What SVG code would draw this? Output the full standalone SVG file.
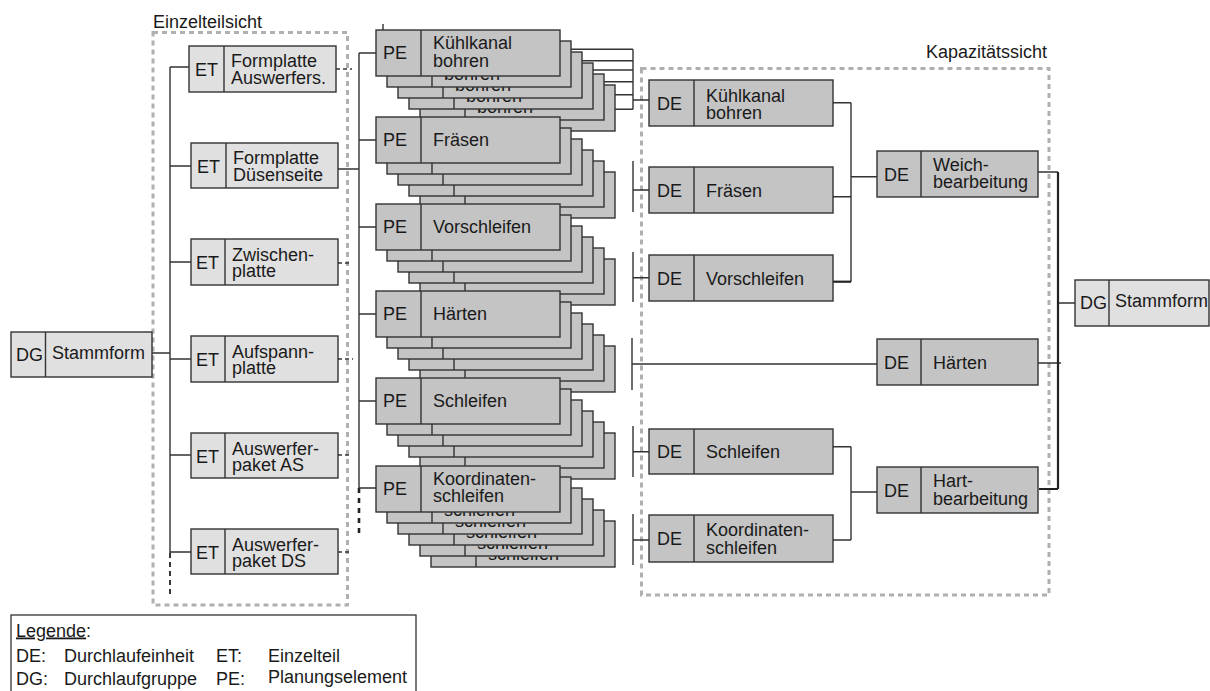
<svg xmlns="http://www.w3.org/2000/svg" width="1210" height="691" viewBox="0 0 1210 691">
  <style>
    .lt { fill: #e0e0e0; stroke: #333; stroke-width: 1.4; }
    .dk { fill: #c4c4c4; stroke: #333; stroke-width: 1.4; }
    .sep { stroke: #333; stroke-width: 1.4; }
    .t { font-family: "Liberation Sans", Arial, sans-serif; font-size: 18px; fill: #1a1a1a; }
    .ln { stroke: #333; stroke-width: 1.4; fill: none; }
    .thk { stroke: #222; stroke-width: 2.2; fill: none; }
    .dsh { stroke: #333; stroke-width: 1.3; stroke-dasharray: 4 3; fill: none; }
    .tail { stroke: #222; stroke-width: 1.8; stroke-dasharray: 5 4; fill: none; }
    .tail2 { stroke: #222; stroke-width: 2.6; stroke-dasharray: 5 5; fill: none; }
    .view { stroke: #b0b0b0; stroke-width: 3; stroke-dasharray: 5 4; fill: none; }
  </style>
  <defs>
    <!-- planning element box (PE), used for the stacked copies -->
    <g id="peBox">
      <rect class="dk" x="0" y="0" width="184" height="46"/>
      <line class="sep" x1="45" y1="0" x2="45" y2="46"/>
    </g>
  </defs>
  <rect width="1210" height="691" fill="#ffffff"/>

  <!-- view frames -->
  <g id="views">
    <rect class="view" x="153" y="32.5" width="194.5" height="572.5"/>
    <text class="t" x="153" y="28">Einzelteilsicht</text>
    <rect class="view" x="641.5" y="68.5" width="407.5" height="526.5"/>
    <text class="t" x="1047" y="58" text-anchor="end">Kapazitätssicht</text>
  </g>

  <!-- connectors -->
  <g id="connectors">
    <!-- DG to single parts -->
    <path class="ln" d="M152 353 H170 M170 67 V553"/>
    <path class="tail" d="M170 553 V597"/>
    <path class="ln" d="M170 67 H189 M170 166 H191 M170 262 H191 M170 359 H191 M170 455 H191 M170 552 H191"/>
    <!-- single parts to planning elements -->
    <path class="dsh" d="M336 69 H352 M338 263 H352 M338 359 H353 M338 455 H352 M338 552 H352"/>
    <path class="ln" d="M338 169 H359 M359 53 V488"/>
    <path class="tail2" d="M359 488 V533"/>
    <path class="ln" d="M359 53 H376 M359 140 H376 M359 227 H376 M359 314 H376 M359 401 H376 M359 488 H376"/>
    <path class="ln" d="M383 24 V30"/>
    <!-- drilling stack to DE -->
    <path class="ln" d="M560 49.3 H633 M570 60.7 H633 M580 70 H633 M590 81.7 H633 M604 94.7 H633 M610 109.3 H633 M633 49.3 V109.3 M633 100 H649"/>
    <!-- other stacks to DE -->
    <path class="ln" d="M633 161 V212 M633 190 H649"/>
    <path class="ln" d="M633 252 V302 M633 277.7 H649"/>
    <path class="ln" d="M632 338 V390 M632 364 H877"/>
    <path class="ln" d="M633 426 V477 M633 451.7 H649"/>
    <path class="ln" d="M633 514 V565 M633 540 H649"/>
    <!-- DE to Weichbearbeitung -->
    <path class="ln" d="M833 102.7 H851 M833 196.7 H851 M851 102.7 V281.7 M851 176.7 H877"/>
    <path class="thk" d="M833 281.7 H851"/>
    <!-- DE to Hartbearbeitung -->
    <path class="ln" d="M833 446.7 H851 M833 540 H851 M851 446.7 V540 M851 492 H877"/>
    <!-- to DG Stammform -->
    <path class="ln" d="M1038 172 H1058 M1037 363 H1061 M1058 303 H1075"/>
    <path class="thk" d="M1058 172 V489 M1039 489 H1058"/>
  </g>

  <!-- DG Stammform (left) -->
  <g id="dg-left">
    <rect class="lt" x="11" y="332" width="141" height="45"/>
    <line class="sep" x1="45.5" y1="332" x2="45.5" y2="377"/>
    <text class="t" x="16" y="361">DG</text>
    <text class="t" x="52" y="359">Stammform</text>
  </g>

  <!-- single parts -->
  <g id="et-formplatte-auswerfers">
    <rect class="lt" x="189" y="46" width="147" height="46"/>
    <line class="sep" x1="224" y1="46" x2="224" y2="92"/>
    <text class="t" x="195" y="76">ET</text>
    <text class="t" x="231" y="67">Formplatte</text>
    <text class="t" x="231" y="84">Auswerfers.</text>
  </g>
  <g id="et-formplatte-duesenseite">
    <rect class="lt" x="191" y="143" width="147" height="45"/>
    <line class="sep" x1="226" y1="143" x2="226" y2="188"/>
    <text class="t" x="197" y="173">ET</text>
    <text class="t" x="233" y="164">Formplatte</text>
    <text class="t" x="233" y="181">Düsenseite</text>
  </g>
  <g id="et-zwischenplatte">
    <rect class="lt" x="191" y="239" width="147" height="46"/>
    <line class="sep" x1="225" y1="239" x2="225" y2="285"/>
    <text class="t" x="196" y="269">ET</text>
    <text class="t" x="232" y="261">Zwischen-</text>
    <text class="t" x="232" y="277">platte</text>
  </g>
  <g id="et-aufspannplatte">
    <rect class="lt" x="191" y="336" width="147" height="46"/>
    <line class="sep" x1="225" y1="336" x2="225" y2="382"/>
    <text class="t" x="196" y="366">ET</text>
    <text class="t" x="232" y="358">Aufspann-</text>
    <text class="t" x="232" y="374">platte</text>
  </g>
  <g id="et-auswerferpaket-as">
    <rect class="lt" x="191" y="433" width="147" height="45"/>
    <line class="sep" x1="225" y1="433" x2="225" y2="478"/>
    <text class="t" x="196" y="463">ET</text>
    <text class="t" x="232" y="455">Auswerfer-</text>
    <text class="t" x="232" y="471">paket AS</text>
  </g>
  <g id="et-auswerferpaket-ds">
    <rect class="lt" x="191" y="529" width="147" height="45"/>
    <line class="sep" x1="225" y1="529" x2="225" y2="574"/>
    <text class="t" x="196" y="559">ET</text>
    <text class="t" x="232" y="551">Auswerfer-</text>
    <text class="t" x="232" y="567">paket DS</text>
  </g>

  <!-- planning element stacks -->
  <g id="pe-kuehlkanal-bohren">
    <use href="#peBox" x="431" y="85"/><text class="t" x="488" y="124">bohren</text>
    <use href="#peBox" x="420" y="74"/><text class="t" x="477" y="113">bohren</text>
    <use href="#peBox" x="409" y="63"/><text class="t" x="466" y="102">bohren</text>
    <use href="#peBox" x="398" y="52"/><text class="t" x="455" y="91">bohren</text>
    <use href="#peBox" x="387" y="41"/><text class="t" x="444" y="80">bohren</text>
    <use href="#peBox" x="376" y="30"/>
    <text class="t" x="383" y="59">PE</text>
    <text class="t" x="433" y="49">Kühlkanal</text>
    <text class="t" x="433" y="67">bohren</text>
  </g>
  <g id="pe-fraesen">
    <use href="#peBox" x="431" y="172"/>
    <use href="#peBox" x="420" y="161"/>
    <use href="#peBox" x="409" y="150"/>
    <use href="#peBox" x="398" y="139"/>
    <use href="#peBox" x="387" y="128"/>
    <use href="#peBox" x="376" y="117"/>
    <text class="t" x="383" y="146">PE</text>
    <text class="t" x="433" y="146">Fräsen</text>
  </g>
  <g id="pe-vorschleifen">
    <use href="#peBox" x="431" y="259"/>
    <use href="#peBox" x="420" y="248"/>
    <use href="#peBox" x="409" y="237"/>
    <use href="#peBox" x="398" y="226"/>
    <use href="#peBox" x="387" y="215"/>
    <use href="#peBox" x="376" y="204"/>
    <text class="t" x="383" y="233">PE</text>
    <text class="t" x="433" y="233">Vorschleifen</text>
  </g>
  <g id="pe-haerten">
    <use href="#peBox" x="431" y="346"/>
    <use href="#peBox" x="420" y="335"/>
    <use href="#peBox" x="409" y="324"/>
    <use href="#peBox" x="398" y="313"/>
    <use href="#peBox" x="387" y="302"/>
    <use href="#peBox" x="376" y="291"/>
    <text class="t" x="383" y="320">PE</text>
    <text class="t" x="433" y="320">Härten</text>
  </g>
  <g id="pe-schleifen">
    <use href="#peBox" x="431" y="433"/>
    <use href="#peBox" x="420" y="422"/>
    <use href="#peBox" x="409" y="411"/>
    <use href="#peBox" x="398" y="400"/>
    <use href="#peBox" x="387" y="389"/>
    <use href="#peBox" x="376" y="378"/>
    <text class="t" x="383" y="407">PE</text>
    <text class="t" x="433" y="407">Schleifen</text>
  </g>
  <g id="pe-koordinatenschleifen">
    <use href="#peBox" x="431" y="521"/><text class="t" x="488" y="560">schleifen</text>
    <use href="#peBox" x="420" y="510"/><text class="t" x="477" y="549">schleifen</text>
    <use href="#peBox" x="409" y="499"/><text class="t" x="466" y="538">schleifen</text>
    <use href="#peBox" x="398" y="488"/><text class="t" x="455" y="527">schleifen</text>
    <use href="#peBox" x="387" y="477"/><text class="t" x="444" y="516">schleifen</text>
    <use href="#peBox" x="376" y="466"/>
    <text class="t" x="383" y="495">PE</text>
    <text class="t" x="433" y="485">Koordinaten-</text>
    <text class="t" x="433" y="502">schleifen</text>
  </g>

  <!-- capacity view: DE -->
  <g id="de-kuehlkanal-bohren">
    <rect class="dk" x="649" y="80" width="184" height="46"/>
    <line class="sep" x1="694" y1="80" x2="694" y2="126"/>
    <text class="t" x="657" y="110">DE</text>
    <text class="t" x="706" y="102">Kühlkanal</text>
    <text class="t" x="706" y="119">bohren</text>
  </g>
  <g id="de-fraesen">
    <rect class="dk" x="649" y="167" width="184" height="46"/>
    <line class="sep" x1="694" y1="167" x2="694" y2="213"/>
    <text class="t" x="657" y="197">DE</text>
    <text class="t" x="706" y="197">Fräsen</text>
  </g>
  <g id="de-vorschleifen">
    <rect class="dk" x="649" y="255" width="184" height="46"/>
    <line class="sep" x1="694" y1="255" x2="694" y2="301"/>
    <text class="t" x="657" y="285">DE</text>
    <text class="t" x="706" y="285">Vorschleifen</text>
  </g>
  <g id="de-schleifen">
    <rect class="dk" x="649" y="429" width="184" height="45"/>
    <line class="sep" x1="694" y1="429" x2="694" y2="474"/>
    <text class="t" x="657" y="458">DE</text>
    <text class="t" x="706" y="458">Schleifen</text>
  </g>
  <g id="de-koordinatenschleifen">
    <rect class="dk" x="649" y="515" width="184" height="47"/>
    <line class="sep" x1="694" y1="515" x2="694" y2="562"/>
    <text class="t" x="657" y="545">DE</text>
    <text class="t" x="706" y="536">Koordinaten-</text>
    <text class="t" x="706" y="554">schleifen</text>
  </g>
  <g id="de-weichbearbeitung">
    <rect class="dk" x="877" y="151" width="161" height="46"/>
    <line class="sep" x1="921" y1="151" x2="921" y2="197"/>
    <text class="t" x="884" y="181">DE</text>
    <text class="t" x="933" y="171">Weich-</text>
    <text class="t" x="933" y="188">bearbeitung</text>
  </g>
  <g id="de-haerten">
    <rect class="dk" x="877" y="339" width="161" height="46"/>
    <line class="sep" x1="921" y1="339" x2="921" y2="385"/>
    <text class="t" x="884" y="369">DE</text>
    <text class="t" x="933" y="369">Härten</text>
  </g>
  <g id="de-hartbearbeitung">
    <rect class="dk" x="877" y="467" width="161" height="46"/>
    <line class="sep" x1="921" y1="467" x2="921" y2="513"/>
    <text class="t" x="884" y="497">DE</text>
    <text class="t" x="933" y="487">Hart-</text>
    <text class="t" x="933" y="505">bearbeitung</text>
  </g>

  <!-- DG Stammform (right) -->
  <g id="dg-right">
    <rect class="lt" x="1075" y="280" width="134" height="46"/>
    <line class="sep" x1="1109" y1="280" x2="1109" y2="326"/>
    <text class="t" x="1080" y="309">DG</text>
    <text class="t" x="1115" y="307">Stammform</text>
  </g>

  <!-- legend -->
  <g id="legend">
    <rect x="11" y="615" width="405" height="90" fill="#ffffff" stroke="#333" stroke-width="1.3"/>
    <text class="t" x="16" y="636.5"><tspan text-decoration="underline">Legende</tspan>:</text>
    <text class="t" x="16" y="661.5">DE:</text>
    <text class="t" x="64" y="661.5">Durchlaufeinheit</text>
    <text class="t" x="216" y="661.5">ET:</text>
    <text class="t" x="268" y="661.5">Einzelteil</text>
    <text class="t" x="16" y="684.5">DG:</text>
    <text class="t" x="64" y="684.5">Durchlaufgruppe</text>
    <text class="t" x="216" y="684.5">PE:</text>
    <text class="t" x="268" y="682.5">Planungselement</text>
  </g>
</svg>
